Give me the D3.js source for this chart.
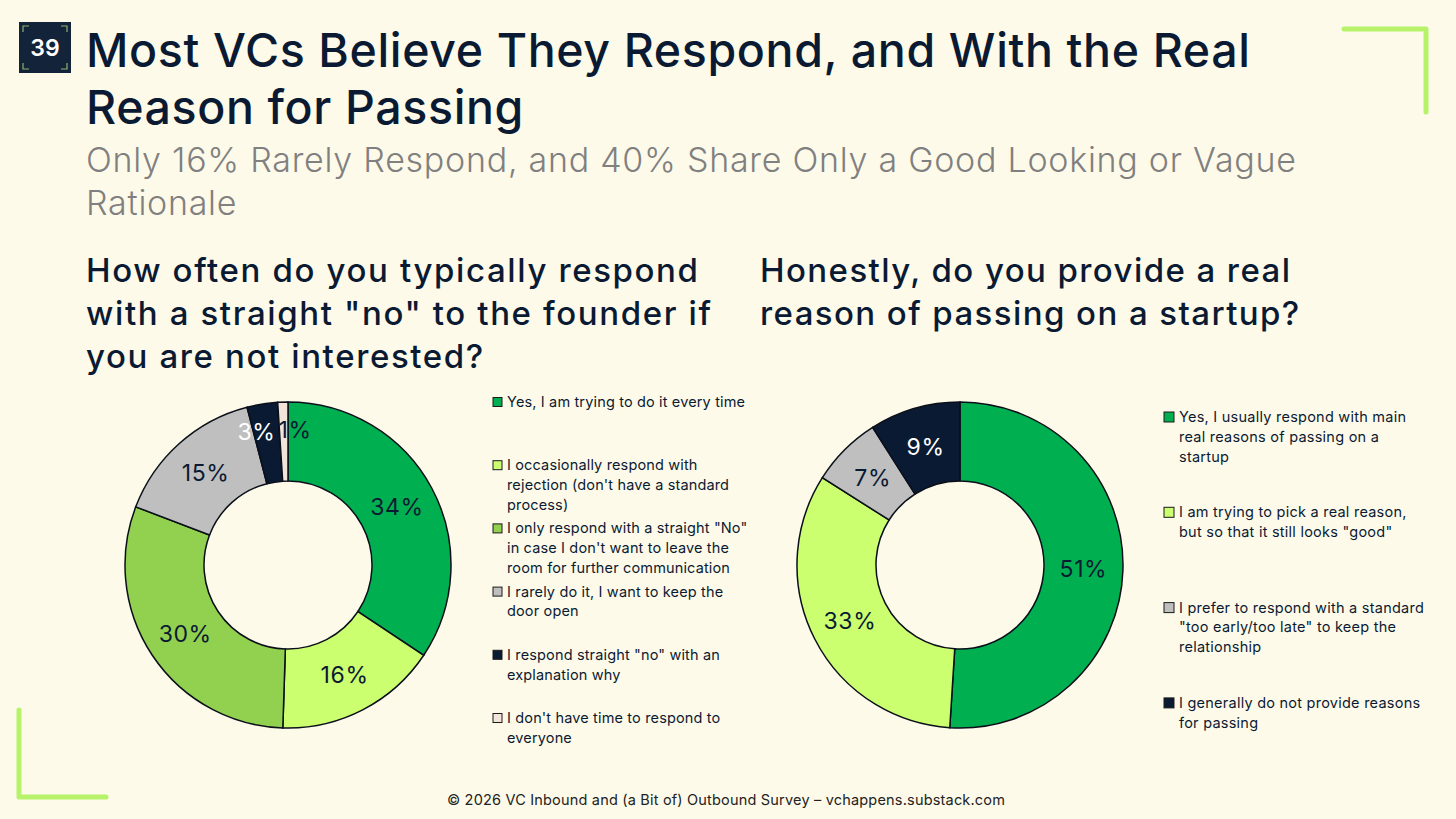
<!DOCTYPE html>
<html>
<head>
<meta charset="utf-8">
<script src="https://cdn.jsdelivr.net/npm/d3@7"></script>
<style>
  html, body { margin: 0; padding: 0; background: #fefae9; }
  svg { display: block; font-family: "Inter", "Noto Sans", sans-serif; }
</style>
</head>
<body>
<svg width="1456" height="819"></svg>
<script>
// Left chart: how often VCs reply with a straight "no".
var leftCategories = [
    "Yes, I am trying to do it every time",
    "I occasionally respond with\nrejection (don't have a standard\nprocess)",
    "I only respond with a straight \"No\"\nin case I don't want to leave the\nroom for further communication",
    "I rarely do it, I want to keep the\ndoor open",
    "I respond straight \"no\" with an\nexplanation why",
    "I don't have time to respond to\neveryone"
];
var leftValues = [34, 16, 30, 15, 3, 1];
var leftColors = ["#00b050", "#ccff70", "#92d050", "#bfbfbf", "#0b1a33", "#f3e4da"];

// Right chart: do VCs give the real reason for passing.
var rightCategories = [
    "Yes, I usually respond with main\nreal reasons of passing on a\nstartup",
    "I am trying to pick a real reason,\nbut so that it still looks \"good\"",
    "I prefer to respond with a standard\n\"too early/too late\" to keep the\nrelationship",
    "I generally do not provide reasons\nfor passing"
];
var rightValues = [51, 33, 7, 9];
var rightColors = ["#00b050", "#ccff70", "#bfbfbf", "#0b1a33"];

var titleLines = ["Most VCs Believe They Respond, and With the Real", "Reason for Passing"];
var subtitleLines = ["Only 16% Rarely Respond, and 40% Share Only a Good Looking or Vague", "Rationale"];
var leftQuestion = ["How often do you typically respond", "with a straight \"no\" to the founder if", "you are not interested?"];
var rightQuestion = ["Honestly, do you provide a real", "reason of passing on a startup?"];
var footerText = "\u00a9 2026 VC Inbound and (a Bit of) Outbound Survey \u2013 vchappens.substack.com";

var INK = "#0b1a33";
var ACCENT = "#b6f36a";

var svg = d3.select("svg");

// Background
svg.append("rect").attr("width", 1456).attr("height", 819).attr("fill", "#fefae9");

// Corner brackets
svg.append("path")
    .attr("d", "M1344,29 H1426 V112")
    .attr("fill", "none").attr("stroke", ACCENT).attr("stroke-width", 5)
    .attr("stroke-linecap", "round").attr("stroke-linejoin", "round");
svg.append("path")
    .attr("d", "M19,710 V797 H106")
    .attr("fill", "none").attr("stroke", ACCENT).attr("stroke-width", 5)
    .attr("stroke-linecap", "round").attr("stroke-linejoin", "round");

// Slide number badge
var badge = svg.append("g").attr("transform", "translate(19,22)");
badge.append("rect").attr("width", 52).attr("height", 51).attr("fill", "#13243a");
var tick = "M4,10 V4 H10 M42,4 H48 V10 M48,41 V47 H42 M10,47 H4 V41";
badge.append("path").attr("d", tick).attr("fill", "none")
    .attr("stroke", "#8fb06a").attr("stroke-width", 1.2);
badge.append("text").attr("x", 26).attr("y", 34).attr("text-anchor", "middle")
    .attr("fill", "#ffffff").attr("font-size", 23).attr("font-weight", 600).text("39");

// Spread the letters a little so the first line hits the width the
// original (wider) font had.
function fitSpacing(t, firstLine, target) {
    var w = firstLine.node().getComputedTextLength();
    var n = firstLine.text().length;
    if (n > 1 && target) {
        t.attr("letter-spacing", ((target - w) / (n - 1)).toFixed(3));
    }
}

function textBlock(lines, x, y0, lh, size, weight, color, target) {
    var t = svg.append("text").attr("font-size", size).attr("font-weight", weight).attr("fill", color);
    var spans = lines.map(function(line, i) {
        return t.append("tspan").attr("x", x).attr("y", y0 + i * lh).text(line);
    });
    fitSpacing(t, spans[0], target);
    return t;
}

textBlock(titleLines, 86, 67, 57, 46.5, 500, INK, 1164);
textBlock(subtitleLines, 86, 172, 43, 34, 300, "#808080", 1210);
textBlock(leftQuestion, 86, 282, 43, 33, 500, INK, 612);
textBlock(rightQuestion, 760, 282, 43, 33, 500, INK, 530);

var foot = svg.append("text").attr("x", 726).attr("y", 805).attr("text-anchor", "middle")
    .attr("font-size", 14.5).attr("fill", "#222").text(footerText);
fitSpacing(foot, foot, 558);

// Nudges for the labels of tiny slices so they don't collide.
var labelNudge = { "left-4": [-12, -11], "left-5": [11, -12] };

function drawDonut(name, values, colors, cx, cy) {
    var outer = 163, inner = 84;
    var pie = d3.pie().sort(null).value(function(d) { return d; });
    var arc = d3.arc().innerRadius(inner).outerRadius(outer);
    var arcs = pie(values);

    var g = svg.append("g").attr("transform", "translate(" + cx + "," + cy + ")");
    g.selectAll("path").data(arcs).enter().append("path")
        .attr("d", arc)
        .attr("fill", function(d, i) { return colors[i]; })
        .attr("stroke", "#0a0f1a").attr("stroke-width", 1.5);

    g.selectAll("text").data(arcs).enter().append("text")
        .attr("transform", function(d, i) {
            var c = arc.centroid(d);
            var n = labelNudge[name + "-" + i] || [0, 0];
            return "translate(" + (c[0] + n[0]) + "," + (c[1] + n[1]) + ")";
        })
        .attr("text-anchor", "middle").attr("dy", "0.36em")
        .attr("font-size", 23).attr("font-weight", 400).attr("letter-spacing", 0.6)
        .attr("fill", function(d, i) { return colors[i] == INK ? "#ffffff" : INK; })
        .text(function(d) { return d.value + "%"; });
}

function drawLegend(categories, colors, x, y0, step, sq, target) {
    var g = svg.append("g").attr("transform", "translate(" + x + "," + y0 + ")");
    var spacing = null;
    categories.forEach(function(label, i) {
        var item = g.append("g").attr("transform", "translate(0," + (i * step) + ")");
        item.append("rect").attr("x", 0).attr("y", -sq / 2).attr("width", sq).attr("height", sq)
            .attr("fill", colors[i]).attr("stroke", "#1a1a1a").attr("stroke-width", 1);
        var t = item.append("text").attr("font-size", 14.5).attr("fill", INK);
        var spans = label.split("\n").map(function(line, j) {
            return t.append("tspan").attr("x", sq + 5).attr("y", j * 19.8).attr("dy", "0.35em").text(line);
        });
        // Use the first item's first line to pick one spacing for the legend.
        if (spacing == null) {
            fitSpacing(t, spans[0], target);
            spacing = t.attr("letter-spacing");
        } else {
            t.attr("letter-spacing", spacing);
        }
    });
}

drawDonut("left", leftValues, leftColors, 288, 565);
drawDonut("right", rightValues, rightColors, 960, 565);
drawLegend(leftCategories, leftColors, 493, 402, 63.2, 9, 238);
drawLegend(rightCategories, rightColors, 1164, 417, 95.3, 10, 227);
</script>
</body>
</html>
